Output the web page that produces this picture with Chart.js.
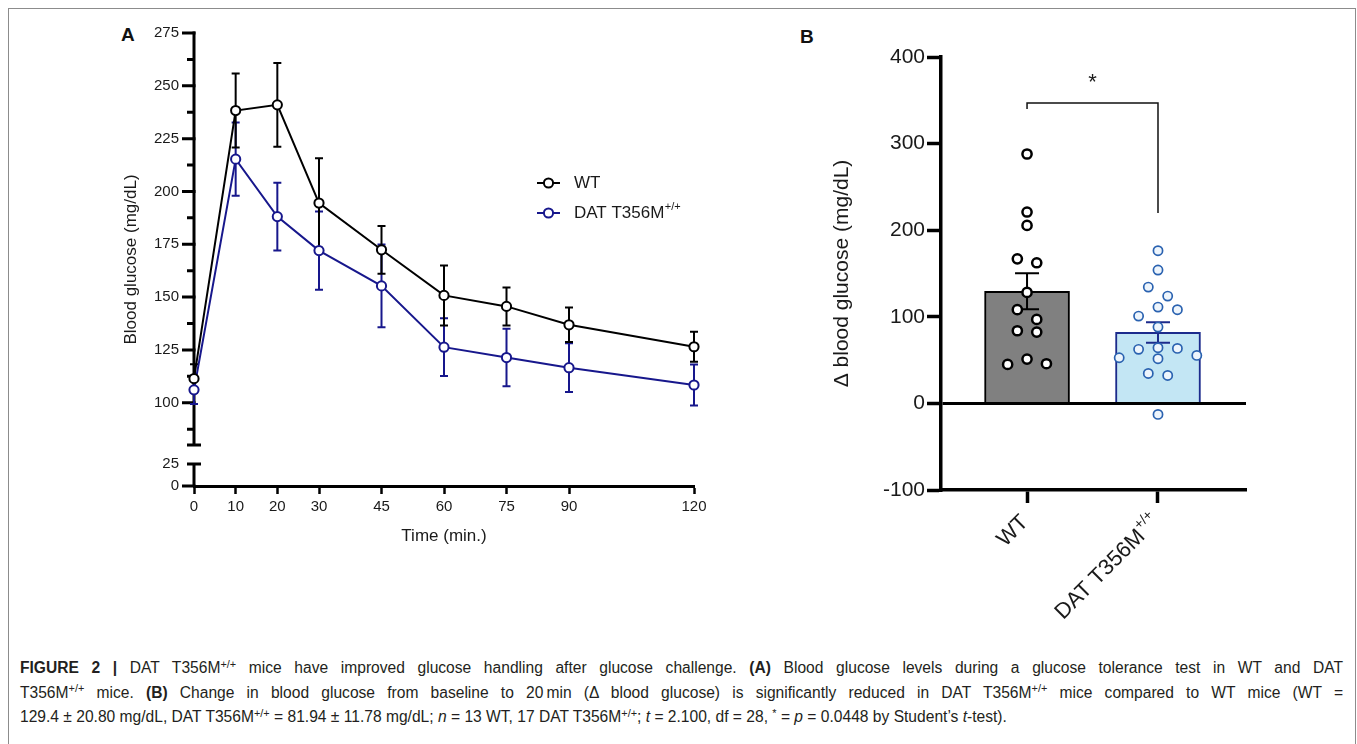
<!DOCTYPE html>
<html><head><meta charset="utf-8">
<script src="https://cdn.jsdelivr.net/npm/chart.js@4.4.1/dist/chart.umd.min.js"></script>
<style>
html,body{margin:0;padding:0;background:#fff;}
body{width:1357px;height:744px;position:relative;overflow:hidden;font-family:'Liberation Sans',Arial,sans-serif;}
#frame{position:absolute;left:8px;top:8px;width:1346px;height:800px;border:1px solid #8c8c8c;}
#wrapA{position:absolute;left:90px;top:18px;width:640px;height:560px;}
#wrapB{position:absolute;left:800px;top:20px;width:520px;height:620px;}
.plabel{position:absolute;font-weight:bold;font-size:19px;line-height:20px;color:#111;}
#caption{position:absolute;left:20px;top:656px;width:1323px;font-size:15.6px;line-height:24.5px;color:#231f20;}
#caption .j{text-align:justify;text-align-last:justify;}
#caption sup{font-size:70%;line-height:0;vertical-align:0;position:relative;top:-0.5em;}
</style></head>
<body>
<div id="frame"></div>
<div class="plabel" style="left:121px;top:25px;">A</div>
<div class="plabel" style="left:800px;top:27px;">B</div>
<div id="wrapA"><canvas id="chartA" width="640" height="560"></canvas></div>
<div id="wrapB"><canvas id="chartB" width="520" height="620"></canvas></div>
<div id="caption">
<div class="j"><b>FIGURE 2 |</b> DAT T356M<sup>+/+</sup> mice have improved glucose handling after glucose challenge. <b>(A)</b> Blood glucose levels during a glucose tolerance test in WT and DAT</div>
<div class="j">T356M<sup>+/+</sup> mice. <b>(B)</b> Change in blood glucose from baseline to 20&#8201;min (&Delta; blood glucose) is significantly reduced in DAT T356M<sup>+/+</sup> mice compared to WT mice (WT =</div>
<div>129.4 &plusmn; 20.80 mg/dL, DAT T356M<sup>+/+</sup> = 81.94 &plusmn; 11.78 mg/dL; <i>n</i> = 13 WT, 17 DAT T356M<sup>+/+</sup>; <i>t</i> = 2.100, df = 28, <sup>*</sup> = <i>p</i> = 0.0448 by Student&#8217;s <i>t</i>-test).</div>
</div>
<script>
// ---------- DATA ----------
// Panel A: glucose tolerance test
const timePoints = [0, 10, 20, 30, 45, 60, 75, 90, 120];
const wtMean  = [111.4, 238.3, 241.0, 194.5, 172.4, 150.8, 145.6, 136.9, 126.5];
const wtSem   = [6.8, 17.5, 19.8, 21.2, 11.3, 14.2, 9.0, 8.2, 7.1];
const datMean = [106.1, 215.3, 188.1, 172.0, 155.3, 126.3, 121.4, 116.6, 108.4];
const datSem  = [6.7, 17.3, 16.0, 18.5, 19.6, 13.7, 13.6, 11.5, 9.7];
const yTicksA = [0, 25, 100, 125, 150, 175, 200, 225, 250, 275];
const yMinorTicksA = [87.5, 112.5, 137.5, 162.5, 187.5, 212.5, 237.5, 262.5];
const seriesNames = ['WT', 'DAT T356M'];
const seriesSup = ['', '+/+'];

// Panel B: delta blood glucose
const groups = ['WT', 'DAT T356M'];
const groupSup = ['', '+/+'];
const barMean = [129.4, 81.94];
const barSem = [20.80, 11.78];
const wtDelta = [288, 221, 205.5, 167, 162.4, 128.2, 108.2, 97, 83.9, 82.4, 51.2, 45.8, 45];
const datDelta = [176.3, 154, 134.3, 123.9, 111.2, 108.2, 100.8, 88.1, 64.3, 63.5, 62.4, 55.4, 52.7, 51.6, 34.6, 32.3, -12.7];
const yTicksB = [-100, 0, 100, 200, 300, 400];
const sigBracket = {top: 347, leftEnd: 340, rightEnd: 220, starAt: 370, label: '*'};

// ---------- STYLE ----------
const FONT = "'Liberation Sans', Arial, sans-serif";
const TXT = '#1a1a1a';
const NAVY = '#17178c';

// broken y-axis scale for panel A
const brk = {lowMin: 0, lowMax: 25, highMin: 80, highMax: 275, lowFrac: 22 / 453, highFrac: 41 / 453};
const LinearBase = Chart.LinearScale || Chart.registry.getScale('linear');
class BrokenLinearScale extends LinearBase {
  getPixelForValue(value) {
    if (value === null || value === undefined || isNaN(value)) return NaN;
    let d;
    if (value <= brk.lowMax) d = (value - brk.lowMin) / (brk.lowMax - brk.lowMin) * brk.lowFrac;
    else if (value >= brk.highMin) d = brk.highFrac + (value - brk.highMin) / (brk.highMax - brk.highMin) * (1 - brk.highFrac);
    else d = brk.lowFrac + (value - brk.lowMax) / (brk.highMin - brk.lowMax) * (brk.highFrac - brk.lowFrac);
    return this.getPixelForDecimal(d);
  }
  getValueForPixel(pixel) {
    const d = this.getDecimalForPixel(pixel);
    if (d <= brk.lowFrac) return brk.lowMin + d / brk.lowFrac * (brk.lowMax - brk.lowMin);
    if (d >= brk.highFrac) return brk.highMin + (d - brk.highFrac) / (1 - brk.highFrac) * (brk.highMax - brk.highMin);
    return brk.lowMax + (d - brk.lowFrac) / (brk.highFrac - brk.lowFrac) * (brk.highMin - brk.lowMax);
  }
}
BrokenLinearScale.id = 'brokenLinear';
BrokenLinearScale.defaults = LinearBase.defaults;
Chart.register(BrokenLinearScale);

function drawSupText(ctx, x, y, main, sup, size, supSize, align) {
  ctx.save();
  ctx.textBaseline = 'middle';
  ctx.textAlign = 'left';
  ctx.font = size + 'px ' + FONT;
  const mw = ctx.measureText(main).width;
  ctx.font = supSize + 'px ' + FONT;
  const sw = sup ? ctx.measureText(sup).width : 0;
  const x0 = align === 'right' ? x - mw - sw : x;
  ctx.font = size + 'px ' + FONT;
  ctx.fillText(main, x0, y);
  if (sup) {
    ctx.font = supSize + 'px ' + FONT;
    ctx.fillText(sup, x0 + mw + 0.5, y - size * 0.36);
  }
  ctx.restore();
}

// ---------- PANEL A ----------
const colorsA = ['#000000', NAVY];
const meansA = [wtMean, datMean];
const semsA = [wtSem, datSem];

const pluginA = {
  id: 'panelA',
  beforeDatasetsDraw(chart) {
    const {ctx, chartArea: ca} = chart;
    const y = chart.scales.y, x = chart.scales.x;
    const x0 = ca.left;
    ctx.save();
    ctx.strokeStyle = '#000';
    ctx.lineWidth = 3;
    ctx.lineCap = 'butt';
    ctx.beginPath();
    ctx.moveTo(x0, y.getPixelForValue(brk.highMax) - 1.5);
    ctx.lineTo(x0, y.getPixelForValue(brk.highMin));
    ctx.moveTo(x0, y.getPixelForValue(brk.lowMax));
    ctx.lineTo(x0, y.getPixelForValue(brk.lowMin));
    ctx.stroke();
    ctx.beginPath();
    yTicksA.forEach(v => {
      if (v === brk.lowMax) return;
      const py = y.getPixelForValue(v);
      ctx.moveTo(x0 - 12, py); ctx.lineTo(x0 + 1.5, py);
    });
    yMinorTicksA.forEach(v => {
      const py = y.getPixelForValue(v);
      ctx.moveTo(x0 - 7, py); ctx.lineTo(x0, py);
    });
    [brk.highMin, brk.lowMax].forEach(v => {
      const py = y.getPixelForValue(v);
      ctx.moveTo(x0 - 7, py); ctx.lineTo(x0 + 7, py);
    });
    ctx.stroke();
    ctx.lineWidth = 2;
    [1, 0].forEach(s => {
      ctx.strokeStyle = colorsA[s];
      ctx.beginPath();
      timePoints.forEach((t, i) => {
        const px = x.getPixelForValue(t);
        const top = y.getPixelForValue(meansA[s][i] + semsA[s][i]);
        const bot = y.getPixelForValue(meansA[s][i] - semsA[s][i]);
        ctx.moveTo(px, top); ctx.lineTo(px, bot);
        ctx.moveTo(px - 4, top); ctx.lineTo(px + 4, top);
        ctx.moveTo(px - 4, bot); ctx.lineTo(px + 4, bot);
      });
      ctx.stroke();
    });
    ctx.restore();
  },
  afterDraw(chart) {
    const {ctx, chartArea: ca} = chart;
    const lx = ca.left + 343, ly = ca.top + 150, gap = 30;
    ctx.save();
    for (let s = 0; s < 2; s++) {
      const yy = ly + s * gap;
      ctx.strokeStyle = colorsA[s];
      ctx.lineWidth = 2;
      ctx.beginPath(); ctx.moveTo(lx, yy); ctx.lineTo(lx + 23, yy); ctx.stroke();
      ctx.beginPath(); ctx.arc(lx + 11.5, yy, 4.6, 0, Math.PI * 2);
      ctx.fillStyle = '#fff'; ctx.fill(); ctx.stroke();
      ctx.fillStyle = TXT;
      drawSupText(ctx, lx + 37, yy, seriesNames[s], seriesSup[s], 17, 11, 'left');
    }
    ctx.restore();
  }
};

new Chart(document.getElementById('chartA'), {
  type: 'line',
  data: {
    datasets: [0, 1].map(s => ({
      label: seriesNames[s] + (seriesSup[s] ? seriesSup[s] : ''),
      data: timePoints.map((t, i) => ({x: t, y: meansA[s][i]})),
      borderColor: colorsA[s],
      borderWidth: 2,
      pointRadius: 4.6,
      pointBorderWidth: 2,
      pointBackgroundColor: '#fff',
      pointBorderColor: colorsA[s],
      tension: 0,
      fill: false,
      clip: false
    }))
  },
  options: {
    responsive: false,
    animation: false,
    events: [],
    layout: {padding: {top: 15, right: 36, bottom: 0, left: 0}},
    plugins: {legend: {display: false}, tooltip: {enabled: false}},
    scales: {
      x: {
        type: 'linear', min: 0, max: 120,
        afterBuildTicks: s => { s.ticks = timePoints.map(v => ({value: v})); },
        afterFit: s => { s.height = 92; },
        border: {display: true, color: '#000', width: 3},
        grid: {drawOnChartArea: false, drawTicks: true, tickLength: 8, tickColor: '#000', tickWidth: 2.5, color: '#000'},
        ticks: {autoSkip: false, maxRotation: 0, padding: 4, color: TXT, font: {size: 15, family: FONT}, callback: v => String(v)},
        title: {display: true, text: 'Time (min.)', color: TXT, font: {size: 17, family: FONT}, padding: {top: 0, bottom: 31}}
      },
      y: {
        type: 'brokenLinear', min: 0, max: 275,
        afterBuildTicks: s => { s.ticks = yTicksA.map(v => ({value: v})); },
        afterFit: s => { s.width = 104; },
        border: {display: false},
        grid: {drawOnChartArea: false, drawTicks: true, tickLength: 12, color: 'rgba(0,0,0,0)', tickColor: 'rgba(0,0,0,0)'},
        ticks: {autoSkip: false, padding: 3, color: TXT, font: {size: 15, family: FONT}, callback: v => String(v)},
        title: {display: true, text: 'Blood glucose (mg/dL)', color: TXT, font: {size: 17, family: FONT}, padding: {top: 31, bottom: 0}}
      }
    }
  },
  plugins: [pluginA]
});

// ---------- PANEL B ----------
const barFill = ['#808080', '#c3e6f4'];
const barEdge = ['#000000', '#1c2b8c'];
const dotEdge = ['#000000', '#2a62b0'];
const dotFill = ['#ffffff', '#eef5fc'];
const deltas = [wtDelta, datDelta];

function swarmOffsets(values, yScale, stepPx, rowPx) {
  const idx = values.map((v, i) => i).sort((a, b) => values[b] - values[a]);
  const ks = [0, 1, -1, 2, -2, 3, -3, 4, -4, 5, -5, 6, -6];
  const k = new Array(values.length).fill(0);
  const placed = [];
  idx.forEach(i => {
    const py = yScale.getPixelForValue(values[i]);
    for (const c of ks) {
      if (placed.every(p => Math.abs(p.py - py) >= rowPx || Math.abs(p.k - c) >= 2)) {
        k[i] = c; placed.push({py, k: c}); break;
      }
    }
  });
  let cluster = [], prev = null;
  const flush = () => {
    if (!cluster.length) return;
    const m = cluster.reduce((a, i) => a + k[i], 0) / cluster.length;
    cluster.forEach(i => { k[i] -= m; });
    cluster = [];
  };
  idx.forEach(i => {
    const py = yScale.getPixelForValue(values[i]);
    if (prev !== null && py - prev >= rowPx) flush();
    cluster.push(i); prev = py;
  });
  flush();
  return k.map(c => c * stepPx);
}

const pluginB = {
  id: 'panelB',
  afterDatasetDraw(chart, args) {
    if (args.meta.type !== 'bar') return;
    const {ctx} = chart;
    const x = chart.scales.x, y = chart.scales.y;
    ctx.save();
    ctx.lineWidth = 2;
    barMean.forEach((m, i) => {
      const px = x.getPixelForValue(i);
      const top = y.getPixelForValue(m + barSem[i]);
      const bot = y.getPixelForValue(m - barSem[i]);
      ctx.strokeStyle = barEdge[i];
      ctx.beginPath();
      ctx.moveTo(px, top); ctx.lineTo(px, bot);
      ctx.moveTo(px - 12, top); ctx.lineTo(px + 12, top);
      ctx.moveTo(px - 12, bot); ctx.lineTo(px + 12, bot);
      ctx.stroke();
    });
    ctx.restore();
  },
  afterDraw(chart) {
    const {ctx, chartArea: ca} = chart;
    const x = chart.scales.x, y = chart.scales.y;
    ctx.save();
    const xl = x.getPixelForValue(0), xr = x.getPixelForValue(1);
    ctx.strokeStyle = '#111';
    ctx.lineWidth = 1.5;
    ctx.beginPath();
    ctx.moveTo(xl, y.getPixelForValue(sigBracket.leftEnd));
    ctx.lineTo(xl, y.getPixelForValue(sigBracket.top));
    ctx.lineTo(xr, y.getPixelForValue(sigBracket.top));
    ctx.lineTo(xr, y.getPixelForValue(sigBracket.rightEnd));
    ctx.stroke();
    ctx.fillStyle = TXT;
    ctx.font = '22px ' + FONT;
    ctx.textAlign = 'center';
    ctx.textBaseline = 'middle';
    ctx.fillText(sigBracket.label, (xl + xr) / 2, y.getPixelForValue(sigBracket.starAt));
    groups.forEach((g, i) => {
      const px = x.getPixelForValue(i);
      ctx.save();
      ctx.translate(px - 2, ca.bottom + 29);
      ctx.rotate(-Math.PI / 4);
      ctx.fillStyle = TXT;
      drawSupText(ctx, 0, 0, g, groupSup[i], 22, 14, 'right');
      ctx.restore();
    });
    ctx.restore();
  }
};

const chartB = new Chart(document.getElementById('chartB'), {
  type: 'bar',
  data: {
    datasets: [
      {
        type: 'bar', label: 'mean', order: 2,
        data: barMean.map((m, i) => ({x: i, y: m})),
        backgroundColor: barFill, borderColor: barEdge, borderWidth: 2,
        barThickness: 85
      },
      ...[0, 1].map(g => ({
        type: 'scatter', label: groups[g], order: 1 - g,
        data: deltas[g].map(v => ({x: g, y: v})),
        showLine: false,
        pointRadius: 4.6,
        pointBorderWidth: g === 0 ? 2.5 : 1.7,
        pointBorderColor: dotEdge[g],
        pointBackgroundColor: dotFill[g],
        clip: false
      }))
    ]
  },
  options: {
    responsive: false,
    animation: false,
    events: [],
    layout: {padding: {top: 37, right: 74, bottom: 0, left: 0}},
    plugins: {legend: {display: false}, tooltip: {enabled: false}},
    scales: {
      x: {
        type: 'linear', min: -0.657, max: 1.672, offset: false,
        afterBuildTicks: s => { s.ticks = [{value: 0}, {value: 1}]; },
        afterFit: s => { s.height = 150; },
        border: {display: true, color: '#000', width: 3.5},
        grid: {offset: false, drawOnChartArea: false, drawTicks: true, tickLength: 13, tickColor: '#000', tickWidth: 3.5, color: '#000'},
        ticks: {display: false}
      },
      y: {
        type: 'linear', min: -100, max: 400,
        afterBuildTicks: s => { s.ticks = yTicksB.map(v => ({value: v})); },
        afterFit: s => { s.width = 141; },
        border: {display: true, color: '#000', width: 3.5},
        grid: {
          drawOnChartArea: true,
          color: c => (c.tick && c.tick.value === 0) ? '#000' : 'rgba(0,0,0,0)',
          lineWidth: 3, tickLength: 14, tickColor: '#000', tickWidth: 3.5
        },
        ticks: {autoSkip: false, padding: 2, color: TXT, font: {size: 21, family: FONT}, callback: v => String(v)},
        title: {display: true, text: '\u0394 blood glucose (mg/dL)', color: TXT, font: {size: 21, family: FONT}, padding: {top: 30, bottom: 0}}
      }
    }
  },
  plugins: [pluginB]
});

(function () {
  const x = chartB.scales.x, y = chartB.scales.y;
  const pxPerUnit = x.getPixelForValue(1) - x.getPixelForValue(0);
  [0, 1].forEach(g => {
    const offs = swarmOffsets(deltas[g], y, 9.7, 10.5);
    chartB.data.datasets[1 + g].data = deltas[g].map((v, i) => ({x: g + offs[i] / pxPerUnit, y: v}));
  });
  chartB.update('none');
})();
</script>
</body></html>
